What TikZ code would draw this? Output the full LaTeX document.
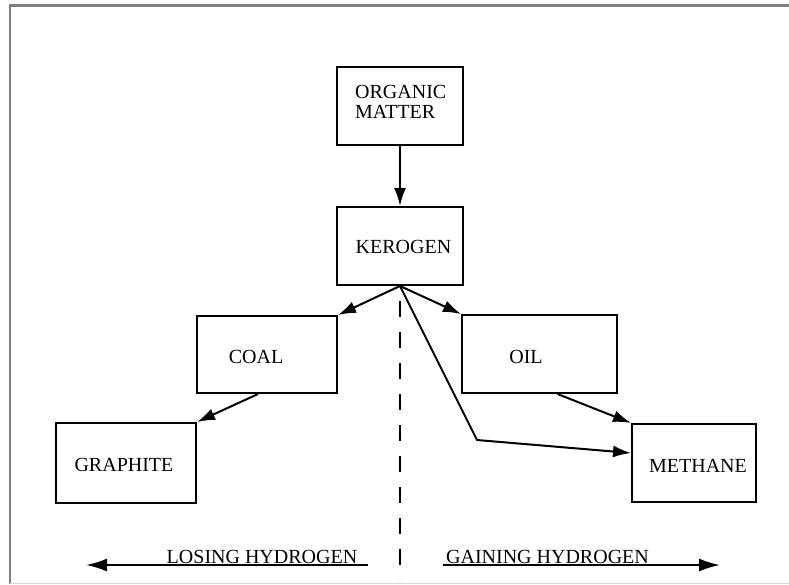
\documentclass[tikz,border=0pt]{standalone}
\usepackage{fontspec}
\setmainfont{Liberation Serif}
\usetikzlibrary{arrows.meta,calc}
\begin{document}
\begin{tikzpicture}[x=1pt,y=-1pt,
  box/.style={draw, line width=2pt, inner sep=0pt},
  lbl/.style={inner sep=0pt, anchor=base, font=\fontsize{20}{20}\selectfont},
  arr/.style={line width=2pt, -{Latex[length=18pt,width=12pt]}},
  frameline/.style={draw=gray, line width=2.5pt}]
\useasboundingbox (0,0) rectangle (789,584);
% frame
\draw[frameline] (10,584) -- (10,5.5) -- (789,5.5);
\draw[gray!30, line width=1pt] (10,583) -- (789,583);
% boxes
\node[box, minimum width=126pt, minimum height=78pt] (om) at (400,106) {};
\node[box, minimum width=126pt, minimum height=78pt] (ker) at (400,246) {};
\node[box, minimum width=140pt, minimum height=77pt] (coal) at (267,354.5) {};
\node[box, minimum width=155pt, minimum height=78pt] (oil) at (539.5,354) {};
\node[box, minimum width=140pt, minimum height=80pt] (graph) at (126,463) {};
\node[box, minimum width=124pt, minimum height=78pt] (meth) at (694,463) {};
% labels
\node[lbl, anchor=base west, align=left] (omt) at (355,118) {ORGANIC\\MATTER};
\node[lbl] (kert) at (403.5,253) {KEROGEN};
\node[lbl] (coalt) at (256,363) {COAL};
\node[lbl] (oilt) at (526,363) {OIL};
\node[lbl] (grapht) at (124,471) {GRAPHITE};
\node[lbl] (metht) at (698,472) {METHANE};
% connectors
\draw[arr] (om.south) -- (ker.north);
\draw[arr] (ker.south) -- (coal.north east);
\draw[arr] (ker.south) -- (oil.north west);
\coordinate (bend) at (477,440);
\draw[arr] (ker.south) -- (bend) -- ($(meth.north west)+(0,30)$);
\draw[arr] ($(coal.south)+(-9,0)$) -- (graph.north east);
\draw[arr] ($(oil.south)+(18,0)$) -- (meth.north west);
% divider
\coordinate (dend) at (400,580);
\draw[line width=2pt, dash pattern=on 16pt off 15pt, dash phase=-15pt] (ker.south) -- (dend);
% bottom arrows
\coordinate (la1) at (368,565);
\coordinate (la2) at (86,565);
\coordinate (ra1) at (443,565);
\coordinate (ra2) at (720,565);
\draw[line width=2pt, -{Latex[length=21pt,width=13pt]}] (la1) -- (la2);
\draw[line width=2pt, -{Latex[length=21pt,width=13pt]}] (ra1) -- (ra2);
\node[lbl] (lose) at (262,563) {LOSING HYDROGEN};
\node[lbl] (gain) at (547.5,563) {GAINING HYDROGEN};
\end{tikzpicture}
\end{document}
